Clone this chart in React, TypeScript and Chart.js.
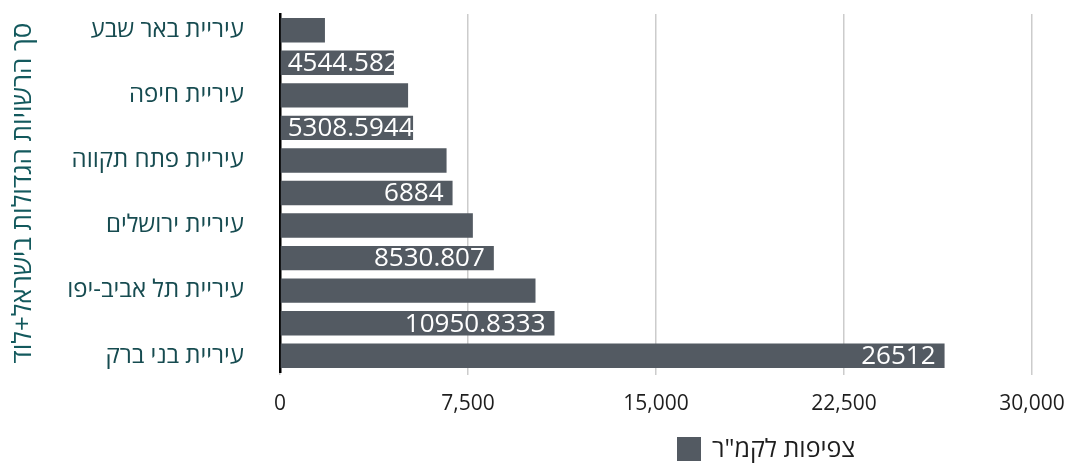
import React, { useEffect, useRef } from 'react';
import { Chart, registerables } from 'chart.js';

Chart.register(...registerables);

const categories = [
  'עיריית באר שבע',
  '',
  'עיריית חיפה',
  '',
  'עיריית פתח תקווה',
  '',
  'עיריית ירושלים',
  '',
  'עיריית תל אביב-יפו',
  '',
  'עיריית בני ברק',
];
const densityValues = [1793, 4544.582, 5110, 5308.5944, 6645, 6884, 7694, 8530.807, 10193, 10950.8333, 26512];
const valueLabelShown = [false, true, false, true, false, true, false, true, false, true, true];
const xTickValues = [0, 7500, 15000, 22500, 30000];
const seriesName = 'צפיפות לקמ"ר';
const yAxisTitle = 'סך הרשויות הגדולות בישראל+לוד';

const BAR_COLOR = '#535a62';
const FONT = "'Open Sans', 'Liberation Sans', 'DejaVu Sans', sans-serif";

const valueLabelPlugin = {
  id: 'valueLabels',
  afterDatasetsDraw(chart: any) {
    const ctx = chart.ctx;
    const meta = chart.getDatasetMeta(0);
    ctx.save();
    ctx.font = `26px ${FONT}`;
    ctx.fillStyle = '#ffffff';
    ctx.textBaseline = 'middle';
    meta.data.forEach((bar: any, i: number) => {
      if (!valueLabelShown[i]) return;
      const text = String(densityValues[i]);
      const w = ctx.measureText(text).width;
      const end = bar.x;
      const base = bar.base;
      const h = bar.height;
      let left = end - 9 - w;
      if (left < base + 7) left = base + 7;
      ctx.save();
      ctx.beginPath();
      ctx.rect(base, bar.y - h / 2, end - base, h);
      ctx.clip();
      ctx.textAlign = 'left';
      ctx.fillText(text, left, bar.y + 1);
      ctx.restore();
    });
    ctx.restore();
  },
};

const legendPlugin = {
  id: 'customLegend',
  afterDraw(chart: any) {
    const ctx = chart.ctx;
    ctx.save();
    ctx.fillStyle = BAR_COLOR;
    ctx.fillRect(669, 429, 24, 24);
    ctx.font = `25px ${FONT}`;
    ctx.fillStyle = '#1e1e1e';
    ctx.textAlign = 'left';
    ctx.textBaseline = 'middle';
    ctx.fillText(seriesName, 704, 442);
    ctx.restore();
  },
};

export default function App() {
  const ref = useRef<HTMLCanvasElement | null>(null);
  useEffect(() => {
    if (!ref.current) return;
    const chart = new Chart(ref.current, {
      type: 'bar',
      data: {
        labels: categories,
        datasets: [
          {
            label: seriesName,
            data: densityValues,
            backgroundColor: BAR_COLOR,
            borderWidth: 0,
            categoryPercentage: 1,
            barPercentage: 0.75,
          },
        ],
      },
      options: {
        indexAxis: 'y',
        responsive: true,
        maintainAspectRatio: false,
        animation: false,
        layout: { padding: { top: 6, right: 52, bottom: 48, left: 0 } },
        plugins: {
          legend: { display: false },
          tooltip: { enabled: false },
        },
        scales: {
          x: {
            min: 0,
            max: 30000,
            afterBuildTicks: (scale: any) => {
              scale.ticks = xTickValues.map((v) => ({ value: v }));
            },
            afterFit: (scale: any) => {
              scale.height = 43;
            },
            ticks: {
              font: { size: 21, family: FONT },
              color: '#1e1e1e',
              padding: 16,
              maxRotation: 0,
              callback: (v: any) => Number(v).toLocaleString('en-US'),
            },
            grid: { color: '#cccccc', lineWidth: 1.5, tickLength: 3 },
            border: { display: false },
          },
          y: {
            afterFit: (scale: any) => {
              scale.width = 272;
              scale.paddingTop = 0;
              scale.paddingBottom = 0;
            },
            grid: {
              display: true,
              drawOnChartArea: false,
              drawTicks: true,
              tickLength: 36,
              color: 'rgba(0,0,0,0)',
              tickColor: 'rgba(0,0,0,0)',
            },
            border: { display: true, color: '#000000', width: 2.5 },
            ticks: {
              autoSkip: false,
              font: { size: 24, family: FONT },
              color: '#164b50',
              padding: 0,
            },
            title: {
              display: true,
              text: yAxisTitle,
              color: '#13595d',
              font: { size: 26, family: FONT },
              padding: 0,
            },
          },
        },
      },
      plugins: [valueLabelPlugin, legendPlugin],
    });
    return () => chart.destroy();
  }, []);
  return (
    <div style={{ position: 'relative', width: 1076, height: 455 }}>
      <canvas ref={ref} />
    </div>
  );
}
